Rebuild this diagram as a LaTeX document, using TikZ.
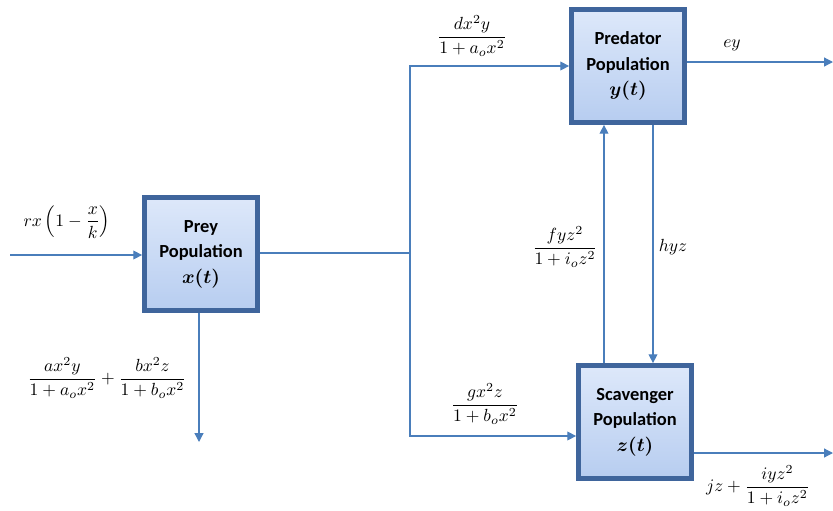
\documentclass[tikz,border=0pt]{standalone}
\usepackage{amsmath,bm}
\usepackage{fontspec}
\newfontfamily\boxfont{Carlito}
\usetikzlibrary{arrows.meta}
\definecolor{flowblue}{HTML}{4A7EBB}
\definecolor{edgeblue}{HTML}{3F659C}
\definecolor{topfill}{HTML}{DDE8FA}
\definecolor{botfill}{HTML}{B7CDF0}
\begin{document}
\begin{tikzpicture}[x=0.02cm, y=-0.02cm, >={Triangle[length=5pt,width=5pt]},
		pop/.style={draw=edgeblue, line width=3pt, top color=topfill, bottom color=botfill,
			minimum width=2.25cm, minimum height=2.25cm, inner sep=0pt, align=center,
			font=\boxfont\bfseries\fontsize{10.5}{14.5}\selectfont},
		flow/.style={draw=flowblue, line width=0.7pt},
		rate/.style={inner sep=1pt}]
		\useasboundingbox (0,0) rectangle (833,511);
		% the three populations
		\node[pop] (prey) at (201,254) {Prey\\Population\\$\bm{x(t)}$};
		\node[pop] (pred) at (628,66)  {Predator\\Population\\$\bm{y(t)}$};
		\node[pop] (scav) at (635,422) {Scavenger\\Population\\$\bm{z(t)}$};
		% free ends and bends
		\coordinate (in)    at (10,255);
		\coordinate (split) at (410,253);
		\coordinate (gz)    at (0,436);
		\coordinate (lossx) at (199,442);
		\coordinate (outy)  at (833,62);
		\coordinate (outz)  at (833,453);
		\coordinate (fz)    at (604,0);
		\coordinate (hz)    at (653,0);
		% flows
		\draw[flow,->] (in) -- (in -| prey.west);
		\draw[flow] (prey.east |- split) -- (split);
		\draw[flow,->] (split) |- (pred.west);
		\draw[flow,->] (split) |- (gz -| scav.west);
		\draw[flow,->] (prey.south -| lossx) -- (lossx);
		\draw[flow,->] (pred.east |- outy) -- (outy);
		\draw[flow,->] (scav.east |- outz) -- (outz);
		\draw[flow,->] (scav.north -| fz) -- (pred.south -| fz);
		\draw[flow,->] (pred.south -| hz) -- (scav.north -| hz);
		% rates
		\node[rate] (lgrow) at (67,222)  {$rx\left(1-\dfrac{x}{k}\right)$};
		\node[rate] (lloss) at (107,378) {$\dfrac{ax^2y}{1+a_ox^2}+\dfrac{bx^2z}{1+b_ox^2}$};
		\node[rate] (ldx)   at (472,36)  {$\dfrac{dx^2y}{1+a_ox^2}$};
		\node[rate] (lgx)   at (485,404) {$\dfrac{gx^2z}{1+b_ox^2}$};
		\node[rate] (lfy)   at (565,247) {$\dfrac{fyz^2}{1+i_oz^2}$};
		\node[rate] (lhy)   at (673,247) {$hyz$};
		\node[rate] (ley)   at (732,45)  {$ey$};
		\node[rate] (ljz)   at (758,486) {$jz+\dfrac{iyz^2}{1+i_oz^2}$};
	\end{tikzpicture}
\end{document}
